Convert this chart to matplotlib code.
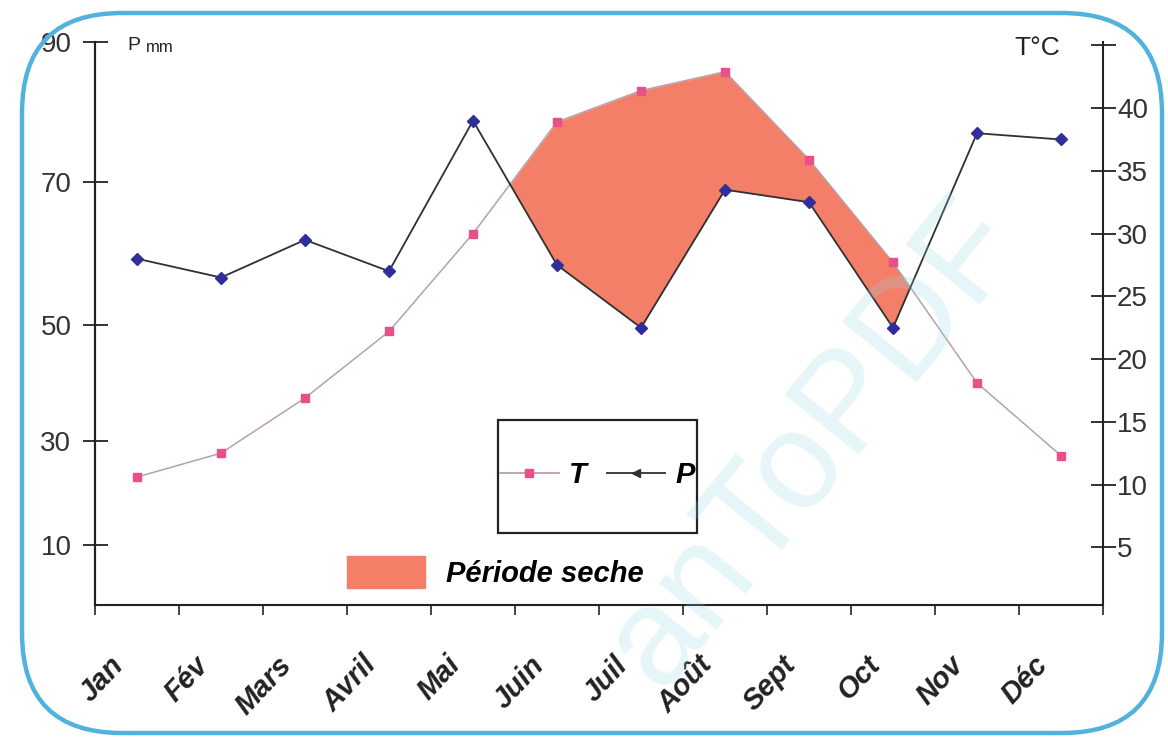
import numpy as np
import matplotlib
matplotlib.use("Agg")
import matplotlib.pyplot as plt
from matplotlib.patches import FancyBboxPatch, Patch, Rectangle
from matplotlib.lines import Line2D
from matplotlib.transforms import IdentityTransform

plt.rcParams['font.family'] = ['Liberation Sans', 'DejaVu Sans']

mois = ["Jan", "Fév", "Mars", "Avril", "Mai", "Juin", "Juil", "Août", "Sept", "Oct", "Nov", "Déc"]
T = [10.6, 12.5, 16.9, 22.2, 30.0, 38.9, 41.4, 42.9, 35.9, 27.7, 18.1, 12.3]   # °C
P = [56, 53, 59, 54, 78, 55, 45, 67, 65, 45, 76, 75]                          # mm

t_ticks = [5, 10, 15, 20, 25, 30, 35, 40, 45]
t_labels = ["5", "10", "15", "20", "25", "30", "35", "40", ""]
# graduations P telles qu'elles sont placées sur l'original (échelle irrégulière)
p_ticks = [10.3, 26.9, 45.4, 68.2, 90.5]
p_labels = ["10", "30", "50", "70", "90"]

x = np.arange(len(mois))
T = np.array(T)
P2 = np.array(P) / 2.0   # P = 2T

fig = plt.figure(figsize=(11.68, 7.39), dpi=100)
ax = fig.add_axes([95 / 1168, 1 - 605 / 739, 1008 / 1168, 563 / 739])
ax.set_xlim(-0.5, 11.5)
ax.set_ylim(0.4, 45.27)

# période sèche
ax.fill_between(x, T, P2, where=T > P2, interpolate=True, color='#f47f68', lw=0, zorder=2)
ax.plot(x, T, color='#b8a0a6', lw=1.1, marker='s', ms=6, mfc='#e8508a', mec='#e8508a', zorder=3)
ax.plot(x, P2, color='#303030', lw=1.3, marker='D', ms=6, mfc='#2e2e9c', mec='#2e2e9c', zorder=4)

ax.spines['top'].set_visible(False)
for s in ['left', 'right', 'bottom']:
    ax.spines[s].set_color('#222222')
    ax.spines[s].set_linewidth(1.5)

# axe T à droite
ax.yaxis.tick_right()
ax.set_yticks(t_ticks, t_labels)
ax.tick_params(axis='y', direction='inout', length=18, width=1.3, labelsize=20,
               pad=1, colors='#222222', labelcolor='#333333')

# axe P à gauche
sec = ax.secondary_yaxis('left', functions=(lambda t: 2 * t, lambda p: p / 2))
sec.set_yticks(p_ticks, p_labels)
sec.spines['left'].set_color('#222222')
sec.spines['left'].set_linewidth(1.5)
sec.tick_params(direction='inout', length=18, width=1.3, labelsize=20, pad=8,
                colors='#222222', labelcolor='#333333')

# mois
ax.set_xticks(np.arange(-0.5, 12, 1), minor=True)
ax.set_xticks(x - 0.33, mois)
ax.tick_params(axis='x', which='minor', direction='out', length=7, width=1.2, color='#222222')
ax.tick_params(axis='x', which='major', length=0, pad=33)
for lbl in ax.get_xticklabels():
    lbl.set_rotation(47)
    lbl.set_rotation_mode('anchor')
    lbl.set_ha('right')
    lbl.set_va('top')
    lbl.set_fontsize(21)
    lbl.set_fontweight('bold')
    lbl.set_fontstyle('italic')
    lbl.set_color('#222222')

# légende T / P
ax.add_patch(Rectangle((0.400, 0.127), 0.197, 0.201, transform=ax.transAxes,
                       fill=False, ec='#222222', lw=1.6, zorder=5))
h_t = Line2D([], [], color='#b8a0a6', lw=1.3, marker='s', ms=6, mfc='#e8508a', mec='#e8508a')
h_p = Line2D([], [], color='#303030', lw=1.3, marker='<', ms=6, mfc='#303030', mec='#303030')
leg1 = ax.legend([h_t, h_p], ["T", "P"], ncol=2, frameon=False, loc='center',
                 bbox_to_anchor=(0.4985, 0.231), handlelength=2.0, handletextpad=0.35,
                 columnspacing=0.7, prop={'size': 21, 'weight': 'bold', 'style': 'italic'})
ax.add_artist(leg1)
leg2 = ax.legend([Patch(color='#f47f68')], ["Période seche"], frameon=False, loc='center',
                 bbox_to_anchor=(0.397, 0.0586), handlelength=2.7, handleheight=1.3,
                 handletextpad=0.7, prop={'size': 21, 'weight': 'bold', 'style': 'italic'})

# titres des axes
fig.text(127 / 1168, 1 - 45 / 739, "P", fontsize=14, color='#222222', va='center')
fig.text(146 / 1168, 1 - 47 / 739, "mm", fontsize=12, color='#222222', va='center')
fig.text(1037 / 1168, 1 - 48 / 739, "T°C", fontsize=19, color='#222222', ha='center', va='center')

# filigrane
fig.text(815 / 1168, 1 - 445 / 739, "anToPDF", fontsize=100, rotation=51, color='#8fd8e2',
         alpha=0.22, ha='center', va='center', zorder=10)

# cadre arrondi
frame = FancyBboxPatch((22, 6), 1140, 720, boxstyle='round,pad=0,rounding_size=100',
                       transform=IdentityTransform(), fill=False, ec='#52b2dc', lw=3.2)
fig.add_artist(frame)

fig.savefig("out.png", dpi=100)
